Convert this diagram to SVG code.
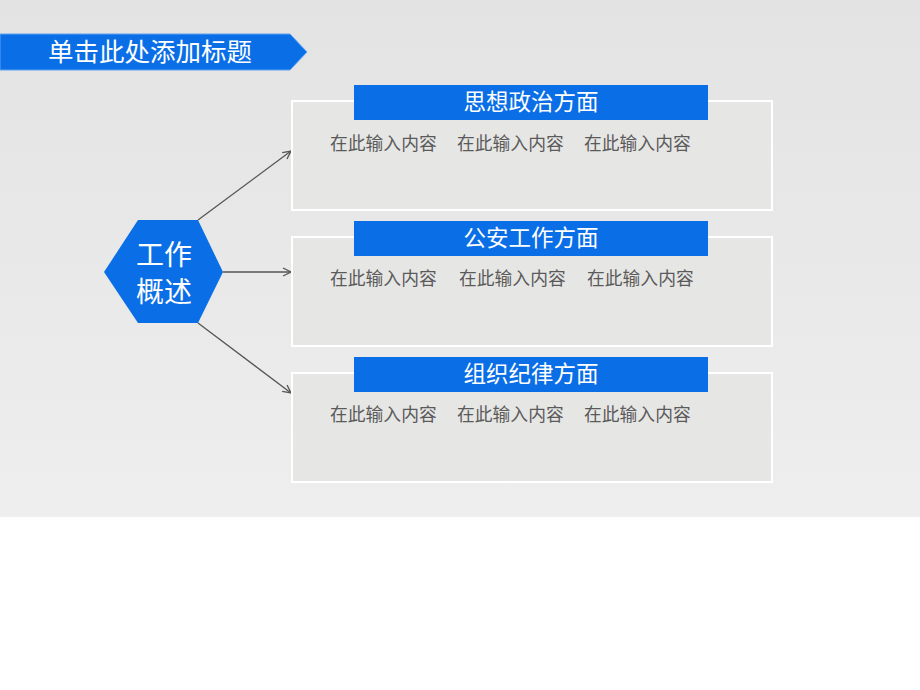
<svg xmlns="http://www.w3.org/2000/svg" width="920" height="690" viewBox="0 0 920 690">
<defs>
<linearGradient id="bg" x1="0" y1="0" x2="0" y2="1">
<stop offset="0" stop-color="#e3e3e3"/>
<stop offset="1" stop-color="#eeeeee"/>
</linearGradient>
<marker id="arr" viewBox="0 0 10 10" refX="9" refY="5" markerWidth="10" markerHeight="10" markerUnits="userSpaceOnUse" orient="auto">
<path d="M1,1 L9,5 L1,9" fill="none" stroke="#555" stroke-width="1.3"/>
</marker>
<style>
.blue{fill:#0a6ee6;}
.box{fill:#e6e6e4;stroke:#ffffff;stroke-width:2;}
.hd{font-family:"Noto Sans CJK SC","Noto Sans",sans-serif;font-size:22.5px;fill:#ffffff;text-anchor:middle;}
.ct{font-family:"Noto Sans CJK SC","Noto Sans",sans-serif;font-size:17.8px;fill:#5a5a5a;}
.conn{stroke:#555;stroke-width:1.3;fill:none;}
.hub{font-family:"Noto Sans CJK SC","Noto Sans",sans-serif;font-size:28px;fill:#ffffff;text-anchor:middle;}
</style>
</defs>
<rect width="920" height="690" fill="#ffffff"/>
<rect width="920" height="517" fill="url(#bg)"/>

<g id="title">
<polygon class="blue" points="0,34 290,34 307,52 290,70 0,70" stroke="#5fa2f0" stroke-width="1"/>
<text x="150" y="61" font-family="Noto Sans CJK SC,Noto Sans,sans-serif" font-size="25.5" fill="#ffffff" text-anchor="middle">单击此处添加标题</text>
</g>

<g id="connectors">
<line class="conn" x1="198" y1="220" x2="291" y2="151" marker-end="url(#arr)"/>
<line class="conn" x1="223" y1="272" x2="291" y2="272" marker-end="url(#arr)"/>
<line class="conn" x1="198" y1="323" x2="291" y2="393" marker-end="url(#arr)"/>
</g>

<g id="hub">
<polygon class="blue" points="104,272 138,220 198,220 223,272 198,323 138,323"/>
<text class="hub" x="164" y="265">工作</text>
<text class="hub" x="164" y="302">概述</text>
</g>

<g id="box1">
<rect class="box" x="292" y="101" width="480" height="109"/>
<rect class="blue" x="354" y="85" width="354" height="35"/>
<text class="hd" x="531" y="110">思想政治方面</text>
<text class="ct" x="330" y="150">在此输入内容</text>
<text class="ct" x="457" y="150">在此输入内容</text>
<text class="ct" x="584" y="150">在此输入内容</text>
</g>

<g id="box2">
<rect class="box" x="292" y="237" width="480" height="109"/>
<rect class="blue" x="354" y="221" width="354" height="35"/>
<text class="hd" x="531" y="246">公安工作方面</text>
<text class="ct" x="330" y="285">在此输入内容</text>
<text class="ct" x="459" y="285">在此输入内容</text>
<text class="ct" x="587" y="285">在此输入内容</text>
</g>

<g id="box3">
<rect class="box" x="292" y="373" width="480" height="109"/>
<rect class="blue" x="354" y="357" width="354" height="35"/>
<text class="hd" x="531" y="382">组织纪律方面</text>
<text class="ct" x="330" y="421">在此输入内容</text>
<text class="ct" x="457" y="421">在此输入内容</text>
<text class="ct" x="584" y="421">在此输入内容</text>
</g>
</svg>
